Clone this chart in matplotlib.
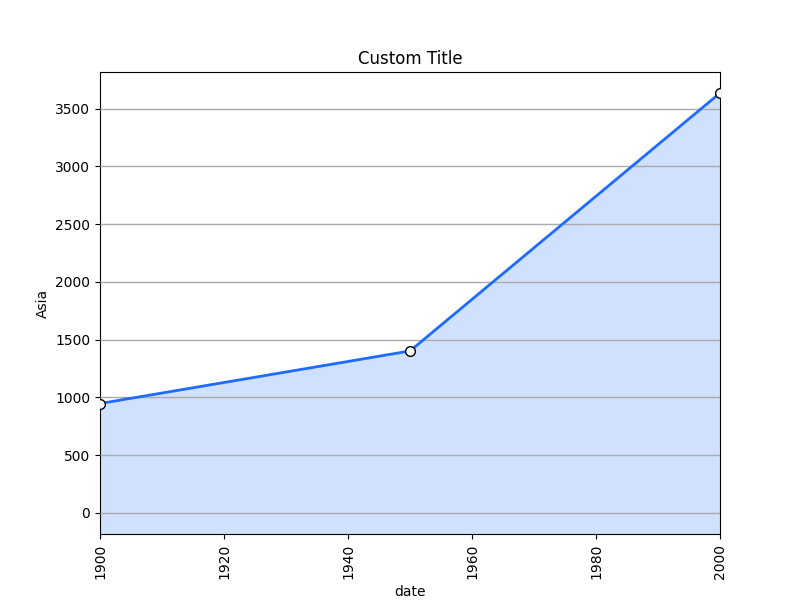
import matplotlib
matplotlib.use("Agg")
import matplotlib.pyplot as plt

years = [1900, 1950, 2000]
asia = [947, 1402, 3634]

fig, ax = plt.subplots(figsize=(8, 6), dpi=100)

ymin, ymax = -182, 3816
ax.fill_between(years, asia, ymin, color="#d0e0ff", zorder=1)
ax.plot(years, asia, color="#1f6bff", lw=2, marker="o", ms=7,
        mfc="white", mec="black", zorder=3)

ax.set_xlim(1900, 2000)
ax.set_ylim(ymin, ymax)
ax.yaxis.grid(True, color="#aaaaaa", lw=1)
ax.set_axisbelow(False)
ax.tick_params(axis="x", labelrotation=90)
ax.set_xlabel("date")
ax.set_ylabel("Asia")
ax.set_title("Custom Title")

plt.savefig("out.png")
